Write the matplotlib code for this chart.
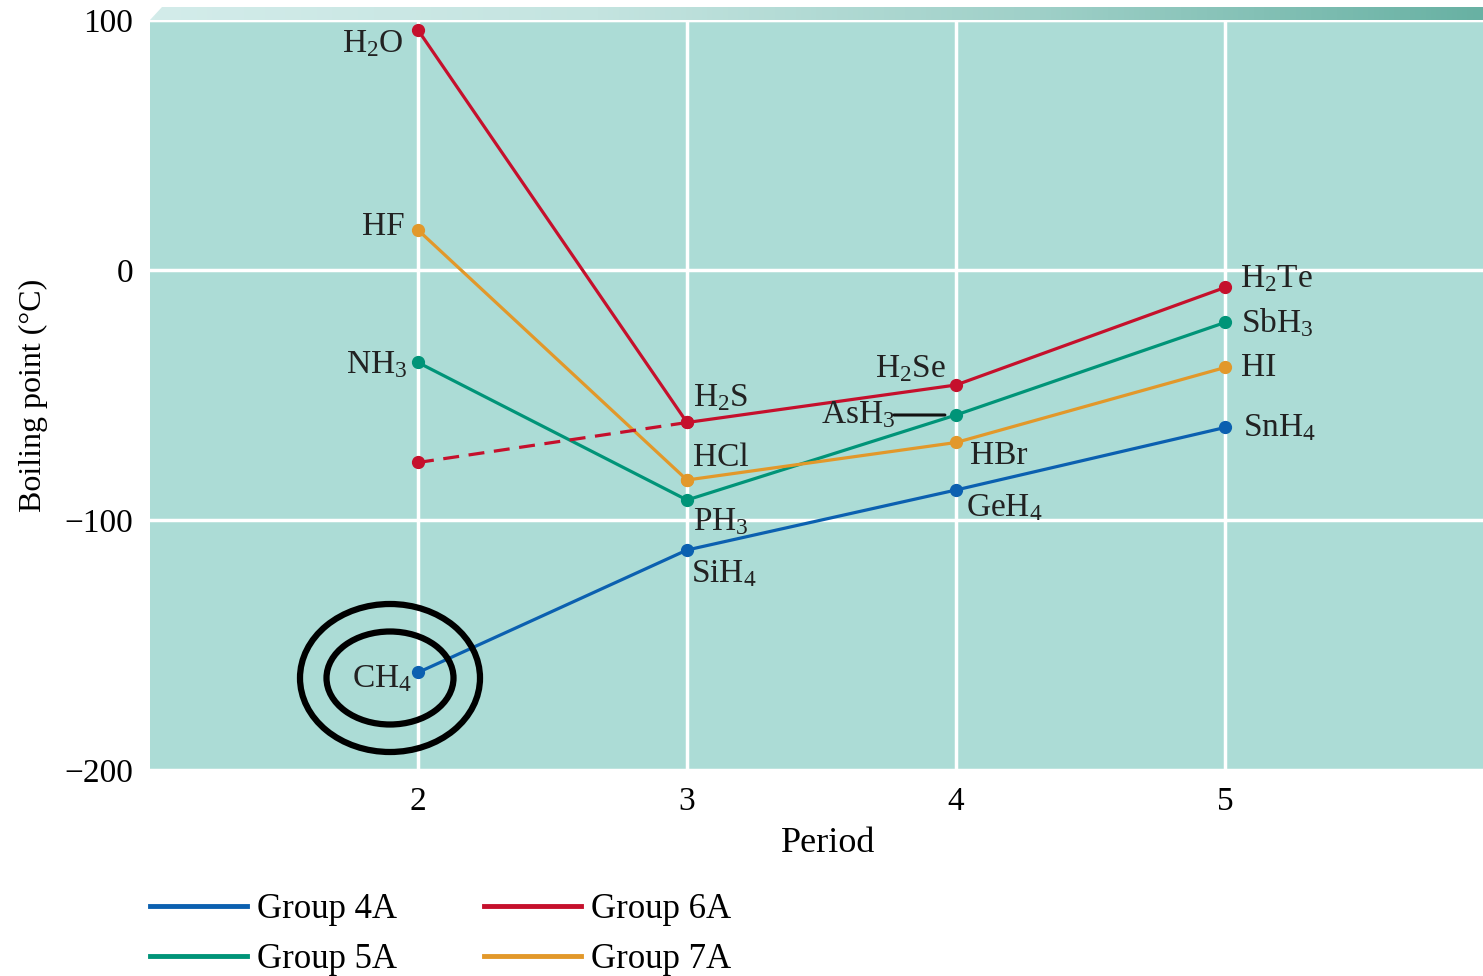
import matplotlib.pyplot as plt
from matplotlib.patches import Ellipse, Polygon
from matplotlib.lines import Line2D
from matplotlib.colors import LinearSegmentedColormap
import numpy as np

plt.rcParams['font.family'] = ['Liberation Serif', 'DejaVu Serif']
plt.rcParams['mathtext.fontset'] = 'custom'
plt.rcParams['mathtext.rm'] = 'Liberation Serif'
plt.rcParams['mathtext.it'] = 'Liberation Serif'

# data (boiling points in degC)
periods = [2, 3, 4, 5]
group4a = [-161, -112, -88, -63]   # CH4 SiH4 GeH4 SnH4
group5a = [-37, -92, -58, -21]     # NH3 PH3 AsH3 SbH3
group6a = [96, -61, -46, -7]       # H2O H2S H2Se H2Te
group7a = [16, -84, -69, -39]      # HF HCl HBr HI
h2o_expected = -77                 # dashed extrapolation

names4 = [r'CH$_4$', r'SiH$_4$', r'GeH$_4$', r'SnH$_4$']
names5 = [r'NH$_3$', r'PH$_3$', r'AsH$_3$', r'SbH$_3$']
names6 = [r'H$_2$O', r'H$_2$S', r'H$_2$Se', r'H$_2$Te']
names7 = ['HF', 'HCl', 'HBr', 'HI']

c_blue = '#0b60b0'
c_green = '#009478'
c_red = '#c5102c'
c_orange = '#e2982a'
bg = '#acdcd6'

W, H = 1483, 976
fig = plt.figure(figsize=(W / 100, H / 100), dpi=100)
ax = fig.add_axes([150 / W, 1 - 770 / H, 1 - 150 / W, 750 / H])
ax.set_facecolor(bg)
for s in ax.spines.values():
    s.set_visible(False)

xpx = lambda p: 2 + (p - 418) / 269.0
ax.set_xlim(xpx(150), xpx(1483))
ax.set_ylim(-200, 100)
ax.set_xticks(periods)
ax.set_yticks([-200, -100, 0, 100])
ax.set_yticklabels(['\u2212200', '\u2212100', '0', '100'])
ax.tick_params(length=0, labelsize=24, pad=12)
ax.tick_params(axis='x', pad=12)
ax.grid(True, color='white', lw=2.5)
ax.set_axisbelow(True)
ax.axhline(100, color='white', lw=3, zorder=1, clip_on=False)

lw, ms = 2.3, 8.5
ax.plot(periods, group4a, color=c_blue, lw=lw, marker='o', ms=ms, zorder=3)
ax.plot(periods, group5a, color=c_green, lw=lw, marker='o', ms=ms, zorder=3)
ax.plot(periods[1:], group6a[1:], color=c_red, lw=lw, marker='o', ms=ms, zorder=3)
ax.plot(periods[:2], group6a[:2], color=c_red, lw=lw, marker='o', ms=ms, zorder=3)
ax.plot(periods[:2], group7a[:2], color=c_orange, lw=lw, marker='o', ms=ms, zorder=3)
ax.plot(periods[1:], group7a[1:], color=c_orange, lw=lw, marker='o', ms=ms, zorder=3)
ax.plot([2, 3], [h2o_expected, group6a[1]], color=c_red, lw=lw, ls=(0, (5, 3)), zorder=3)
ax.plot([2], [h2o_expected], color=c_red, marker='o', ms=ms, zorder=3)

fs = 24
def lab(name, x, y, dx, dy, ha):
    ax.annotate(name, (x, y), xytext=(dx, dy), textcoords='offset pixels',
                ha=ha, va='center', fontsize=fs, color='#222222', zorder=4)

# period 2 labels (left of points)
lab(names6[0], 2, group6a[0], -14, -14, 'right')
lab(names7[0], 2, group7a[0], -13, 3, 'right')
lab(names5[0], 2, group5a[0], -11, -2, 'right')
lab(names4[0], 2, group4a[0], -6, -6, 'right')
# period 3
lab(names6[1], 3, group6a[1], 6, 25, 'left')
lab(names7[1], 3, group7a[1], 6, 22, 'left')
lab(names5[1], 3, group5a[1], 6, -22, 'left')
lab(names4[1], 3, group4a[1], 4, -24, 'left')
# period 4
lab(names6[2], 4, group6a[2], -10, 16, 'right')
lab(names5[2], 4, group5a[2], -61, 0, 'right')
ax.annotate('', (4, group5a[2]), xytext=(-62, 0), textcoords='offset pixels',
            arrowprops=dict(arrowstyle='-', color='#111111', lw=2.2, shrinkA=0, shrinkB=8))
lab(names7[2], 4, group7a[2], 14, -13, 'left')
lab(names4[2], 4, group4a[2], 10, -18, 'left')
# period 5
for names, vals, dx, dy in [(names6, group6a, 15, 9), (names5, group5a, 16, 0),
                            (names7, group7a, 16, 0), (names4, group4a, 18, 0)]:
    lab(names[3], 5, vals[3], dx, dy, 'left')

# circles around CH4
cx, cy = xpx(390), -163.2
ax.add_patch(Ellipse((cx, cy), 180 / 269, 148 / 2.5, fill=False, ec='black', lw=4.5, zorder=5, clip_on=False))
ax.add_patch(Ellipse((cx, cy), 127 / 269, 93 / 2.5, fill=False, ec='black', lw=4.5, zorder=5, clip_on=False))

ax.set_ylabel('Boiling point (\u00b0C)', fontsize=23, labelpad=12)
fig.text(828 / W, 1 - 843 / H, 'Period', fontsize=26, ha='center', va='center')

# 3D top strip with gradient
sax = fig.add_axes([150 / W, 1 - 20 / H, 1 - 150 / W, 13 / H])
sax.set_axis_off()
sax.set_xlim(0, 1)
sax.set_ylim(0, 1)
grad = np.linspace(0, 1, 256).reshape(1, -1)
cmap = LinearSegmentedColormap.from_list('strip', ['#d3ecea', '#c4e4e0', '#9fd0c8', '#68b1a3'])
im = sax.imshow(grad, extent=[0, 1, 0, 1], aspect='auto', cmap=cmap)
poly = Polygon([[0, 0], [12 / (W - 150), 1], [1, 1], [1, 0]], closed=True, transform=sax.transData, fc='none', ec='none')
sax.add_patch(poly)
im.set_clip_path(poly)

# legend
handles = [Line2D([], [], color=c_blue, lw=3.5), Line2D([], [], color=c_green, lw=3.5),
           Line2D([], [], color=c_red, lw=3.5), Line2D([], [], color=c_orange, lw=3.5)]
labels = ['Group 4A', 'Group 5A', 'Group 6A', 'Group 7A']
fig.legend(handles, labels, ncol=2, loc='upper left', bbox_to_anchor=(150 / W, 1 - 893 / H),
           frameon=False, fontsize=25, handlelength=2.8, handletextpad=0.29,
           columnspacing=2.5, labelspacing=0.5, borderpad=0, borderaxespad=0)

fig.savefig('out.png', dpi=100)
